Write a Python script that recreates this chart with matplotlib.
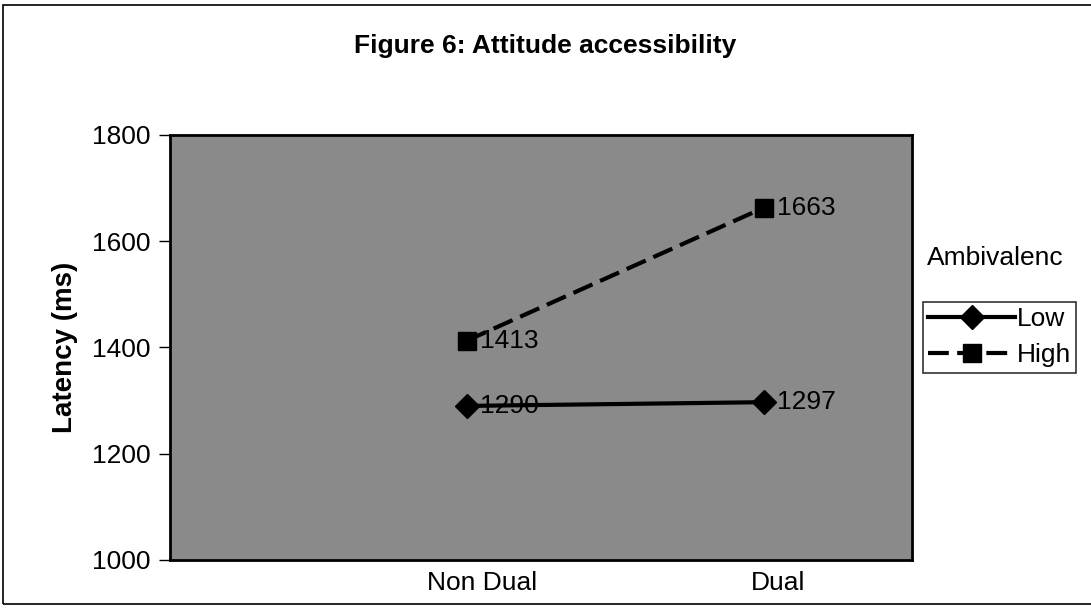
import numpy as np
import matplotlib.pyplot as plt
from matplotlib.patches import Rectangle
from matplotlib.lines import Line2D

plt.rcParams['font.family'] = ['Liberation Sans', 'DejaVu Sans']

conditions = ['Non Dual', 'Dual']
low = [1290, 1297]
high = [1413, 1663]
yticks = [1000, 1200, 1400, 1600, 1800]

fig = plt.figure(figsize=(10.91, 6.08), dpi=100)
fig.patch.set_facecolor('white')

# outer chart border
fig.patches.append(Rectangle((0.003, 0.007), 1.2, 0.985, transform=fig.transFigure,
                             fill=False, edgecolor='black', linewidth=1.2))

ax = fig.add_axes([0.156, 0.079, 0.680, 0.699])
ax.set_facecolor('#8a8a8a')

low_style = dict(color='black', linewidth=3, marker='D', markersize=12)
high_style = dict(color='black', linewidth=3, linestyle=(0, (5, 2)),
                  marker='s', markersize=13)

x = np.arange(1, len(conditions) + 1)
ax.plot(x, low, label='Low', **low_style)
ax.plot(x, high, label='High', **high_style)

for xi, v in zip(x, low):
    ax.text(xi + 0.045, v, str(v), fontsize=19, va='center', ha='left')
for xi, v in zip(x, high):
    ax.text(xi + 0.045, v, str(v), fontsize=19, va='center', ha='left')

ax.set_xlim(0, 2.5)
ax.set_ylim(1000, 1800)
ax.set_xticks(x + 0.05)
ax.set_xticklabels(conditions, fontsize=19)
ax.set_yticks(yticks)
ax.set_yticklabels([str(t) for t in yticks], fontsize=19)
ax.tick_params(axis='x', length=0, pad=8)
ax.tick_params(axis='y', length=8, width=1, pad=6)
for s in ax.spines.values():
    s.set_linewidth(2)

ax.set_ylabel('Latency (ms)', fontsize=20, fontweight='bold', labelpad=10)
fig.text(0.50, 0.925, 'Figure 6: Attitude accessibility', fontsize=19,
         fontweight='bold', ha='center', va='center')

# legend
fig.text(0.850, 0.576, 'Ambivalenc', fontsize=19, ha='left', va='center')
handles = [Line2D([], [], **low_style), Line2D([], [], **high_style)]
leg = fig.legend(handles, ['Low', 'High'], loc='upper left',
                 bbox_to_anchor=(0.846, 0.503), fontsize=19, frameon=True,
                 fancybox=False, edgecolor='black', handlelength=3.3,
                 handletextpad=0.05, borderpad=0.2, labelspacing=0.45,
                 borderaxespad=0)
leg.get_frame().set_linewidth(1.2)

fig.savefig('out.png', dpi=100)
